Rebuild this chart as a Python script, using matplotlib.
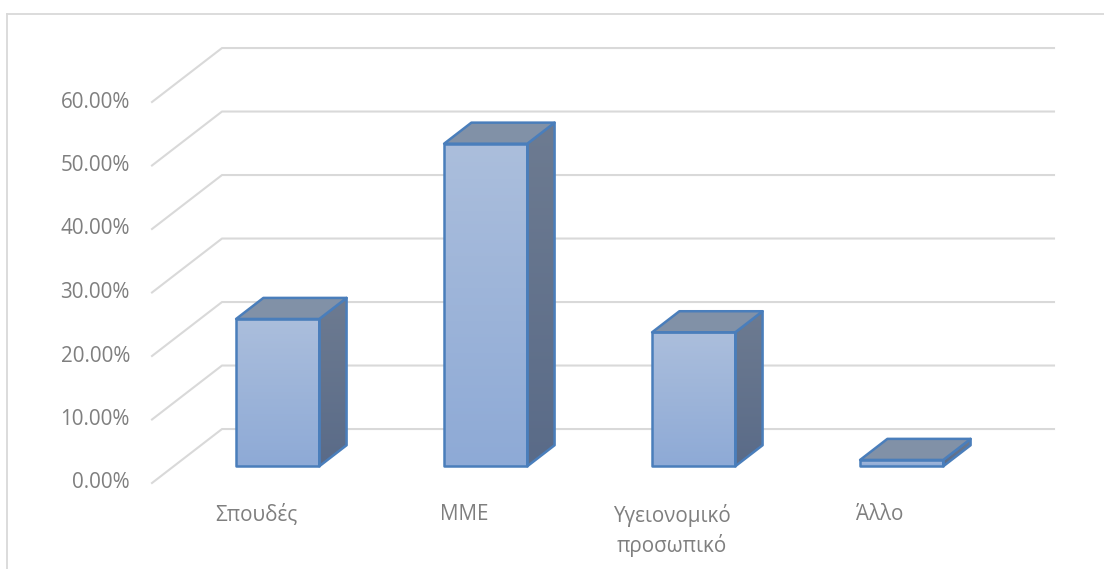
import numpy as np
import matplotlib
matplotlib.use("Agg")
from matplotlib import pyplot as plt
from matplotlib.patches import Polygon
from matplotlib.colors import LinearSegmentedColormap

categories = ["Σπουδές", "ΜΜΕ", "Υγειονομικό\nπροσωπικό", "Άλλο"]
values = [23.2, 50.8, 21.1, 1.0]
yticks = [0, 10, 20, 30, 40, 50, 60]

plt.rcParams['font.family'] = ['Open Sans', 'DejaVu Sans']

# oblique projection: depth 0 (front) .. 1 (back wall)
DX = 0.3365   # category units
DY = 8.5      # percent units
Z0, Z1 = 0.31, 0.70
W = 0.4

def proj(x, y, z):
    return (x + z * DX, y + z * DY)

fig = plt.figure(figsize=(11.04, 5.69), dpi=100)
ax = fig.add_axes([0, 0, 1, 1])
ax.set_xlim(-0.5 - 152 / 208, -0.5 + (1104 - 152) / 208)
ax.set_ylim(-(569 - 483) / 6.35, 483 / 6.35)
ax.axis("off")

# outer frame
fig.add_artist(plt.Line2D([7 / 1104, 7 / 1104], [0, 1 - 14 / 569], color="#d9d9d9", lw=1.3))
fig.add_artist(plt.Line2D([7 / 1104, 1], [1 - 14 / 569, 1 - 14 / 569], color="#d9d9d9", lw=1.3))

n = len(categories)
grid_c = "#d9d9d9"
for v in yticks:
    p0 = proj(-0.5, v, 0)
    p1 = proj(-0.5, v, 1)
    p2 = proj(n - 0.5, v, 1)
    ax.plot([p0[0], p1[0], p2[0]], [p0[1], p1[1], p2[1]], color=grid_c, lw=1.5, zorder=1)
    ax.text(-0.606, v, f"{v:.2f}%", ha="right", va="center", fontsize=14.9, color="#7f7f7f")

front_cmap = LinearSegmentedColormap.from_list("f", ["#8eaad6", "#abbedc"])
side_cmap = LinearSegmentedColormap.from_list("s", ["#5a6b88", "#6d7b91"])
edge = "#4a7ebb"
grad = np.linspace(0, 1, 100).reshape(-1, 1)

for i, (cat, val) in enumerate(zip(categories, values)):
    xl, xr = i - W / 2, i + W / 2
    front = [proj(xl, 0, Z0), proj(xr, 0, Z0), proj(xr, val, Z0), proj(xl, val, Z0)]
    side = [proj(xr, 0, Z0), proj(xr, 0, Z1), proj(xr, val, Z1), proj(xr, val, Z0)]
    top = [proj(xl, val, Z0), proj(xr, val, Z0), proj(xr, val, Z1), proj(xl, val, Z1)]

    for pts, cmap in [(front, front_cmap), (side, side_cmap)]:
        xs = [p[0] for p in pts]
        ys = [p[1] for p in pts]
        im = ax.imshow(grad, cmap=cmap, origin="lower", aspect="auto",
                       extent=[min(xs), max(xs), min(ys), max(ys)], zorder=2)
        poly = Polygon(pts, closed=True, facecolor="none", edgecolor=edge, lw=1.8, zorder=3,
                       joinstyle="round")
        ax.add_patch(poly)
        im.set_clip_path(poly)
    ax.add_patch(Polygon(top, closed=True, facecolor="#8191a7", edgecolor=edge, lw=1.8, zorder=3,
                         joinstyle="round"))

    ax.text(i, -3.3, cat, ha="center", va="top", fontsize=14.9, color="#7f7f7f",
            linespacing=1.38)

fig.savefig("out.png", dpi=100)
